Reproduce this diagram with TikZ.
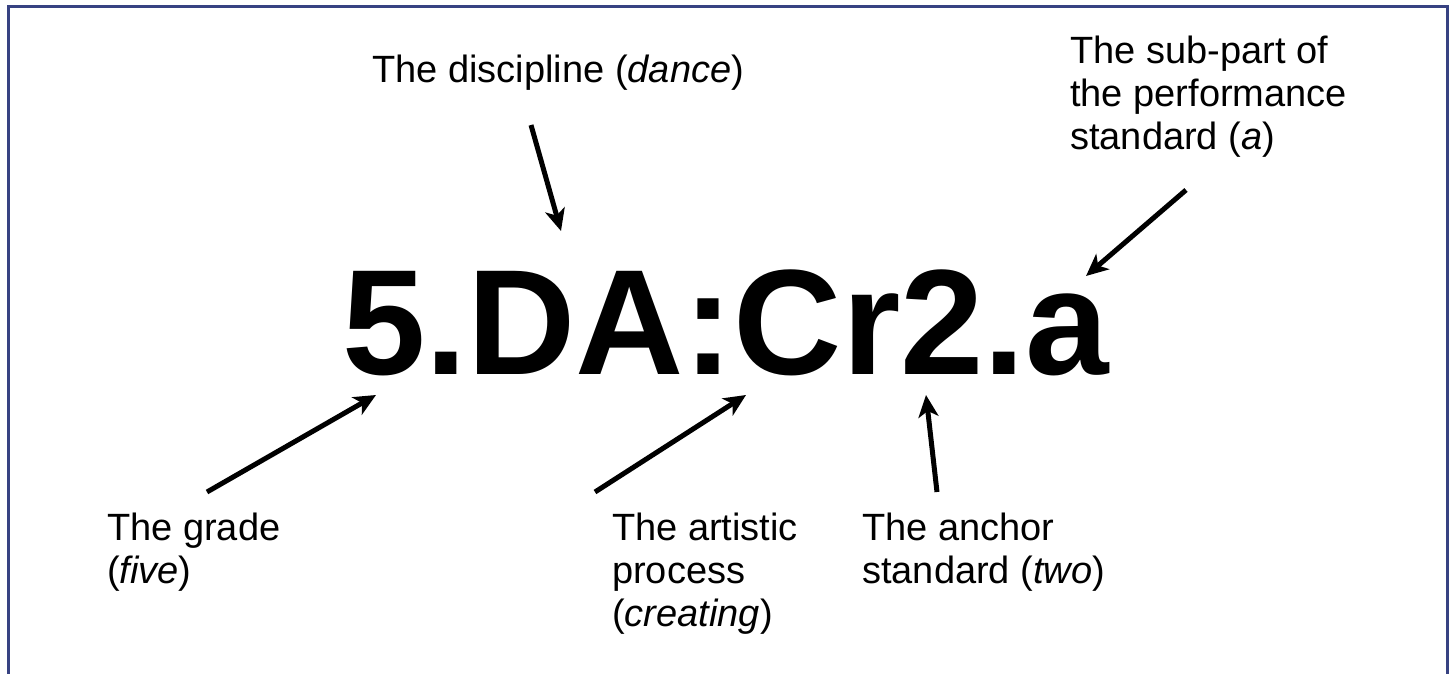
\documentclass[tikz,border=0pt]{standalone}
\usepackage{fontspec}
\setmainfont{Liberation Sans}
\usetikzlibrary{arrows.meta}
\definecolor{frameblue}{RGB}{55,66,130}
\tikzset{
  lbl/.style={anchor=base west, inner sep=0pt, align=left, font=\fontsize{38}{43}\selectfont},
  code/.style={anchor=base west, inner sep=0pt, font=\fontsize{150}{180}\selectfont\bfseries},
  pointer/.style={line width=5pt, -{Stealth[length=22pt,width=20pt,inset=6pt]}},
}
\begin{document}
\begin{tikzpicture}[x=1pt,y=-1pt]
\useasboundingbox (0,0) rectangle (1452,673);
\fill[white] (0,0) rectangle (1452,673);
\draw[frameblue, line width=3pt] (8,675) -- (8,6) -- (1447,6) -- (1447,675);

\node[code] (code) at (342,374) {5.DA:Cr2.a};

% base anchor of a multi-line node is the baseline of its last line
\node[lbl] (disc) at (372,82) {The discipline (\textit{dance})};
\node[lbl] (sub) at (1070,149) {The sub-part of\\the performance\\standard (\textit{a})};
\node[lbl] (grade) at (107,583) {The grade\\(\textit{five})};
\node[lbl] (art) at (612,626) {The artistic\\process\\(\textit{creating})};
\node[lbl] (anch) at (862,583) {The anchor\\standard (\textit{two})};

\coordinate (discT) at (531,125);
\coordinate (discH) at (561,231);
\coordinate (subT) at (1186,190);
\coordinate (subH) at (1086,276);
\coordinate (gradeT) at (207,492);
\coordinate (gradeH) at (376,395);
\coordinate (artT) at (595,492);
\coordinate (artH) at (746,395);
\coordinate (anchT) at (937,492);
\coordinate (anchH) at (926,395);

\draw[pointer] (discT) -- (discH);
\draw[pointer] (subT) -- (subH);
\draw[pointer] (gradeT) -- (gradeH);
\draw[pointer] (artT) -- (artH);
\draw[pointer] (anchT) -- (anchH);
\end{tikzpicture}
\end{document}
